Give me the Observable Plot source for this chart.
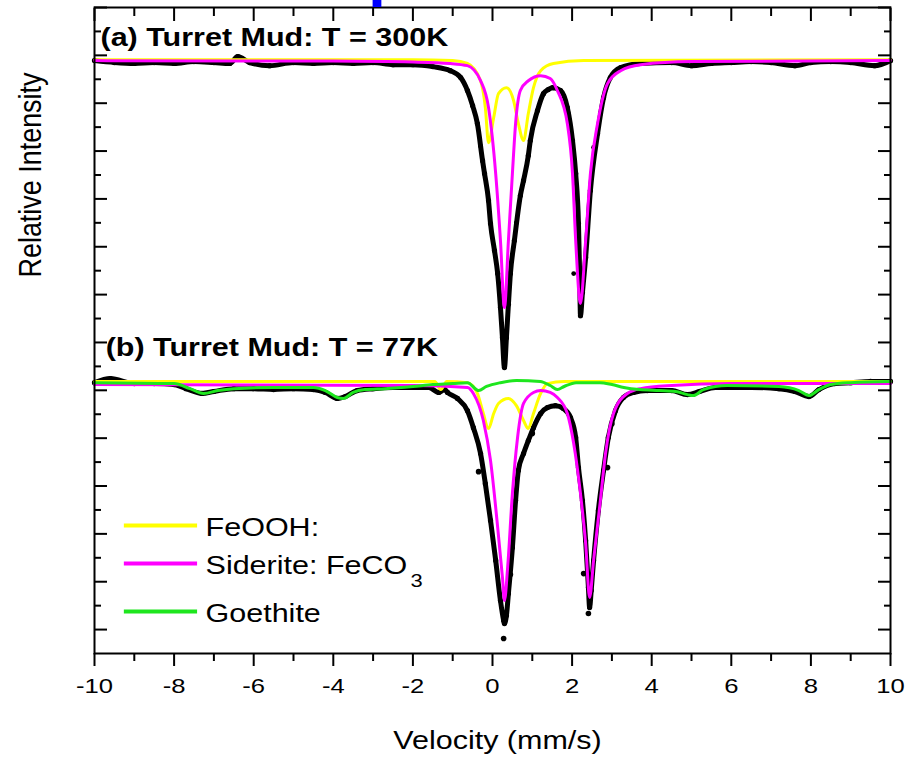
<!DOCTYPE html>
<html><head><meta charset="utf-8">
<script src="https://cdn.jsdelivr.net/npm/d3@7"></script>
<script src="https://cdn.jsdelivr.net/npm/@observablehq/plot@0.6"></script>
<style>body{margin:0;background:#fff}</style>
</head><body><div id="chart"></div>
<script>
// ---- Data (velocity mm/s, relative intensity in tick units) ----
const xMajor = [-10,-8,-6,-4,-2,0,2,4,6,8,10];
const xMinor = [-9,-7,-5,-3,-1,1,3,5,7,9];
const yMajor = [1,3,5,7,9,11,13,15,17,19,21,23,25,27];
const yMinor = [2,4,6,8,10,12,14,16,18,20,22,24,26];

const panelLabels = ["(a) Turret Mud: T = 300K", "(b) Turret Mud: T = 77K"];
const legendLabels = ["FeOOH:", "Siderite: FeCO", "Goethite"];
const legendColors = ["#ffff00", "#ff00ff", "#1ee61e"];

// 300 K measured spectrum
const data300 = [[-10,24.78],[-9.5,24.70],[-9,24.66],[-8.5,24.70],[-8,24.66],[-7.5,24.74],[-7,24.70],[-6.6,24.66],[-6.4,24.95],[-6.1,24.70],[-5.6,24.57],[-5,24.70],[-4.5,24.66],[-4,24.70],[-3.5,24.66],[-3,24.70],[-2.5,24.61],[-2,24.61],[-1.5,24.53],[-1.06,24.36],[-0.8,24.07],[-0.63,23.53],[-0.5,22.90],[-0.38,22.15],[-0.25,20.60],[-0.2,20.06],[-0.1,18.93],[-0.05,17.97],[0.05,16.84],[0.13,15.88],[0.2,14.46],[0.25,13.2],[0.3,11.95],[0.35,13.2],[0.4,14.6],[0.45,15.88],[0.55,17.26],[0.7,19.14],[0.78,19.77],[0.9,20.81],[0.95,21.44],[1.13,22.69],[1.28,23.40],[1.4,23.57],[1.51,23.65],[1.71,23.53],[1.88,22.82],[2.01,21.44],[2.09,20.06],[2.16,17.97],[2.19,15.88],[2.21,14.12],[2.26,15.09],[2.34,16.55],[2.46,19.35],[2.64,21.73],[2.79,23.23],[2.96,24.07],[3.22,24.49],[3.72,24.66],[4.5,24.70],[5.0,24.57],[5.5,24.66],[6,24.70],[6.5,24.74],[7,24.70],[7.6,24.57],[8,24.70],[8.5,24.74],[9,24.70],[9.6,24.57],[10,24.78]];
const scatter300 = [[2.04,15.88],[2.54,21.15],[2.71,22.57],[-0.3,21.2],[0.6,18.0],[1.9,22.6]];
const siderite300 = [[-10,24.78],[-4,24.76],[-2,24.72],[-1.06,24.66],[-0.63,24.57],[-0.3,23.94],[-0.1,22.82],[0.08,20.06],[0.2,17.26],[0.3,14.46],[0.4,17.26],[0.5,20.06],[0.58,22.15],[0.7,23.53],[0.9,23.94],[1.21,24.15],[1.45,24.03],[1.63,23.53],[1.88,22.15],[2.01,20.06],[2.09,17.26],[2.21,14.63],[2.34,17.26],[2.46,20.06],[2.64,22.15],[2.89,23.82],[3.22,24.36],[3.72,24.61],[5,24.74],[10,24.78]];
const feooh300 = [[-10,24.82],[-2,24.82],[-1,24.78],[-0.63,24.66],[-0.3,23.94],[-0.18,22.82],[-0.1,21.35],[0.03,22.40],[0.15,23.40],[0.35,23.65],[0.53,23.11],[0.65,22.15],[0.78,21.44],[0.9,22.57],[1.03,23.65],[1.21,24.36],[1.53,24.66],[2.29,24.78],[10,24.82]];

// 77 K measured spectrum
const data77 = [[-10,11.32],[-9.6,11.49],[-9,11.28],[-8.5,11.28],[-8,11.24],[-7.7,11.07],[-7.3,10.87],[-7,10.95],[-6.5,11.07],[-6,11.07],[-5.5,11.03],[-5,11.07],[-4.5,11.03],[-4.2,10.91],[-3.9,10.66],[-3.7,10.74],[-3.4,10.99],[-3,11.07],[-2.5,11.12],[-2,11.12],[-1.6,11.12],[-1.35,10.91],[-1.2,11.03],[-1.13,10.91],[-0.88,10.66],[-0.63,10.15],[-0.48,9.44],[-0.3,8.36],[-0.18,7.10],[-0.05,5.56],[0.08,3.89],[0.2,2.21],[0.28,1.38],[0.3,1.25],[0.35,1.59],[0.4,2.51],[0.5,4.43],[0.58,6.39],[0.65,7.65],[0.78,8.36],[0.9,8.90],[1.03,9.44],[1.21,10.03],[1.38,10.28],[1.58,10.36],[1.78,10.24],[1.96,9.86],[2.09,9.03],[2.16,7.77],[2.26,6.39],[2.34,4.72],[2.41,2.76],[2.44,1.92],[2.48,2.63],[2.54,3.89],[2.66,5.98],[2.79,7.65],[2.91,9.03],[3.09,10.15],[3.29,10.70],[3.54,10.91],[3.89,10.99],[4.5,10.99],[4.9,10.82],[5.2,10.95],[5.6,11.12],[6.5,11.12],[7.2,11.07],[7.6,10.95],[7.95,10.74],[8.2,11.03],[8.6,11.28],[9,11.32],[9.5,11.37],[10,11.37]];
const scatter77 = [[0.28,0.63],[2.41,1.67],[2.29,3.34],[2.89,7.77],[-0.35,7.6],[0.45,3.3],[1.0,9.2],[3.0,9.6]];
const siderite77 = [[-10,11.24],[-2,11.20],[-0.63,11.12],[-0.48,10.87],[-0.23,9.74],[-0.05,8.07],[0.13,5.27],[0.25,3.18],[0.3,2.21],[0.38,3.59],[0.5,6.69],[0.63,9.03],[0.78,10.45],[1.03,10.91],[1.21,10.99],[1.45,10.91],[1.63,10.70],[1.88,10.03],[2.04,8.78],[2.21,6.69],[2.34,4.60],[2.44,2.34],[2.54,3.89],[2.71,6.39],[2.84,8.36],[3.04,10.03],[3.39,10.87],[3.72,11.07],[4.5,11.20],[6,11.28],[10,11.28]];
const feooh77 = [[-10,11.37],[-1.45,11.37],[-1.3,11.03],[-1.15,11.37],[-0.63,11.32],[-0.38,10.87],[-0.23,10.03],[-0.1,9.40],[0.03,10.03],[0.15,10.45],[0.4,10.66],[0.6,10.36],[0.78,9.74],[0.9,9.40],[1.03,10.03],[1.21,10.87],[1.38,11.28],[1.8,11.37],[10,11.37]];
const goethite77 = [[-10,11.32],[-8,11.28],[-7.6,11.07],[-7.26,10.87],[-6.9,10.99],[-6.5,11.07],[-5.5,11.12],[-4.5,11.12],[-4.2,10.99],[-3.9,10.70],[-3.75,10.66],[-3.5,10.91],[-3.2,11.03],[-2.7,11.07],[-2,11.16],[-1.5,11.24],[-1,11.28],[-0.63,11.32],[-0.35,10.99],[-0.15,11.16],[0.2,11.32],[0.6,11.41],[1.2,11.37],[1.45,11.20],[1.63,11.03],[1.8,11.16],[2.1,11.32],[2.7,11.32],[3.0,11.24],[3.3,11.12],[3.7,11.03],[4.2,10.99],[4.6,10.95],[4.9,10.82],[5.05,10.78],[5.3,11.03],[5.9,11.20],[7.2,11.16],[7.7,10.99],[7.95,10.78],[8.2,11.03],[8.5,11.24],[9,11.32],[10,11.37]];

const cursorMark = [{x1: -3, x2: -2.78}];

// ---- Chart ----
const X = d => d[0], Y = d => d[1];
const lineOpts = (stroke, w) => ({x: X, y: Y, stroke, strokeWidth: w, curve: "monotone-x"});
const legend = legendLabels.map((label, i) => ({label, color: legendColors[i], row: i}));

const chart = Plot.plot({
  width: 907, height: 759,
  marginLeft: 94, marginRight: 17, marginTop: 7, marginBottom: 106,
  x: {domain: [-10, 10]},
  y: {domain: [0, 27]},
  style: {fontFamily: "'Liberation Sans', Arial, sans-serif", background: "#fff", color: "#000"},
  marks: [
    // data
    Plot.line(data300, lineOpts("#000", 5)),
    Plot.dot(data300, {x: X, y: Y, r: 2.6, fill: "#000"}),
    Plot.dot(scatter300, {x: X, y: Y, r: 2.4, fill: "#000"}),
    Plot.line(data77, lineOpts("#000", 5)),
    Plot.dot(data77, {x: X, y: Y, r: 2.6, fill: "#000"}),
    Plot.dot(scatter77, {x: X, y: Y, r: 2.8, fill: "#000"}),
    // fits
    Plot.line(feooh300, lineOpts(legendColors[0], 3)),
    Plot.line(siderite300, lineOpts(legendColors[1], 3)),
    Plot.line(feooh77, lineOpts(legendColors[0], 3)),
    Plot.line(siderite77, lineOpts(legendColors[1], 3)),
    Plot.line(goethite77, lineOpts(legendColors[2], 3)),
    // frame & axes
    Plot.frame({stroke: "#000", strokeWidth: 2}),
    Plot.axisX(xMajor, {anchor: "bottom", tickSize: 13, tickPadding: 12, tickFormat: d => String(d), fontSize: 21, label: null, strokeWidth: 2}),
    Plot.axisX(xMinor, {anchor: "bottom", tickSize: 8, tickFormat: () => "", label: null, strokeWidth: 2}),
    Plot.axisX(xMajor, {anchor: "top", tickSize: -13, tickFormat: () => "", label: null, strokeWidth: 2}),
    Plot.axisX(xMinor, {anchor: "top", tickSize: -8, tickFormat: () => "", label: null, strokeWidth: 2}),
    Plot.axisY(yMajor, {anchor: "left", tickSize: -13, tickFormat: () => "", label: null, strokeWidth: 2}),
    Plot.axisY(yMinor, {anchor: "left", tickSize: -7, tickFormat: () => "", label: null, strokeWidth: 2}),
    Plot.axisY(yMajor, {anchor: "right", tickSize: -13, tickFormat: () => "", label: null, strokeWidth: 2}),
    Plot.axisY(yMinor, {anchor: "right", tickSize: -7, tickFormat: () => "", label: null, strokeWidth: 2}),
    Plot.rect(cursorMark, {x1: "x1", x2: "x2", y1: 27, y2: 27.3, fill: "#0000ff"}),
    // panel labels
    Plot.text([panelLabels[0]], {x: -9.85, y: 25.41, text: d => d, textAnchor: "start", lineAnchor: "bottom", fontSize: 25, fontWeight: "bold"}),
    Plot.text([panelLabels[1]], {x: -9.72, y: 12.45, text: d => d, textAnchor: "start", lineAnchor: "bottom", fontSize: 25, fontWeight: "bold"}),
    // legend
    Plot.ruleY(legend, {y: d => [5.35, 3.76, 1.76][d.row], x1: -9.25, x2: -7.41, stroke: d => d.color, strokeWidth: 4}),
    Plot.text(legend, {x: -7.21, y: d => [4.93, 3.34, 1.30][d.row], text: "label", textAnchor: "start", lineAnchor: "bottom", fontSize: 25}),
    Plot.text(["3"], {x: -2.06, y: 2.80, text: d => d, textAnchor: "start", lineAnchor: "bottom", fontSize: 18}),
    // axis titles
    Plot.text(["Velocity (mm/s)"], {frameAnchor: "bottom", dx: 5, dy: 95, text: d => d, lineAnchor: "bottom", fontSize: 25}),
    Plot.text(["Relative Intensity"], {frameAnchor: "left", dx: -54, dy: -53, rotate: -90, text: d => d, lineAnchor: "bottom", fontSize: 26})
  ]
});
document.getElementById("chart").append(chart);

// horizontally widen text to match the reference's stretched glyphs
chart.querySelectorAll("text").forEach(t => {
  const s = t.textContent;
  if (!s) return;
  const w = t.getComputedTextLength();
  if (!w) return;
  if (s === "Relative Intensity") {
    t.setAttribute("textLength", 205);
    const tr = t.getAttribute("transform") || "";
    t.setAttribute("transform", tr + " scale(1,1.2)");
  } else t.setAttribute("textLength", (w * 1.22).toFixed(1));
  t.setAttribute("lengthAdjust", "spacingAndGlyphs");
});
</script>
</body></html>
